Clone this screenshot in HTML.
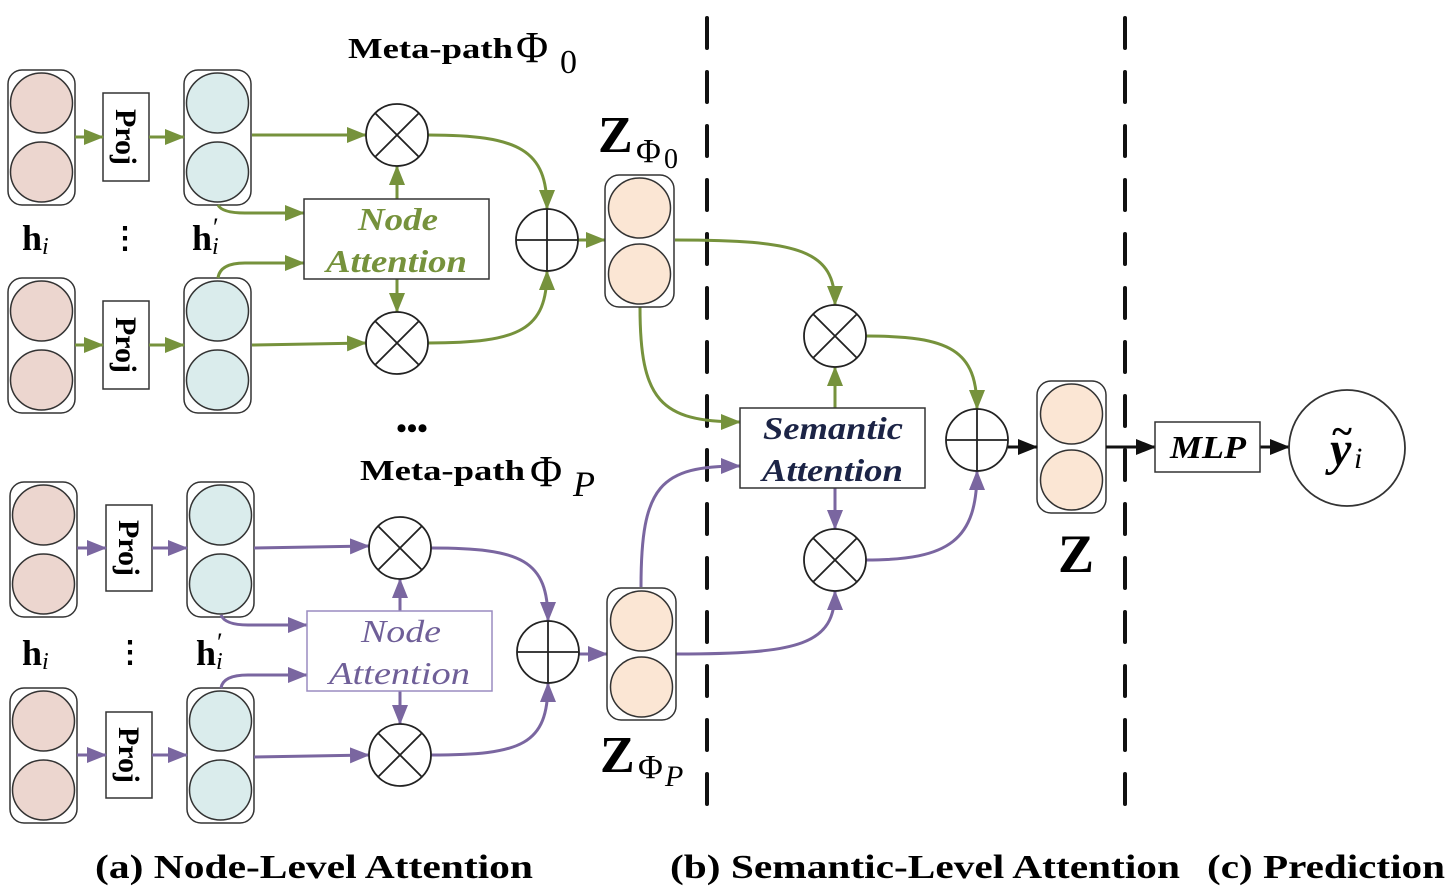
<!DOCTYPE html>
<html><head><meta charset="utf-8"><style>
html,body{margin:0;padding:0;background:#fff}
svg{display:block}
text{font-family:"Liberation Serif",serif}
</style></head><body>
<svg width="1456" height="894" viewBox="0 0 1456 894" xmlns="http://www.w3.org/2000/svg">
<defs>
<marker id="ag" markerWidth="20" markerHeight="20" refX="19" refY="10" orient="auto" markerUnits="userSpaceOnUse" viewBox="0 0 20 20"><path d="M0,2 L20,10 L0,18 z" fill="#76923c"/></marker>
<marker id="ap" markerWidth="20" markerHeight="20" refX="19" refY="10" orient="auto" markerUnits="userSpaceOnUse" viewBox="0 0 20 20"><path d="M0,2 L20,10 L0,18 z" fill="#7a66a0"/></marker>
<marker id="ak" markerWidth="20" markerHeight="20" refX="19" refY="10" orient="auto" markerUnits="userSpaceOnUse" viewBox="0 0 20 20"><path d="M0,2 L20,10 L0,18 z" fill="#111"/></marker>
<g id="pink"><rect x="0" y="0" width="67" height="135" rx="14" fill="#fff" stroke="#333" stroke-width="1.5"/><ellipse cx="33.5" cy="33" rx="31" ry="30" fill="#ecd6cf" stroke="#333" stroke-width="1.5"/><ellipse cx="33.5" cy="102" rx="31" ry="30" fill="#ecd6cf" stroke="#333" stroke-width="1.5"/></g>
<g id="teal"><rect x="0" y="0" width="67" height="135" rx="14" fill="#fff" stroke="#333" stroke-width="1.5"/><ellipse cx="33.5" cy="33" rx="31" ry="30" fill="#daecec" stroke="#333" stroke-width="1.5"/><ellipse cx="33.5" cy="102" rx="31" ry="30" fill="#daecec" stroke="#333" stroke-width="1.5"/></g>
<g id="peach"><rect x="0" y="0" width="69" height="132" rx="14" fill="#fff" stroke="#333" stroke-width="1.5"/><ellipse cx="34.5" cy="33" rx="31" ry="30" fill="#fbe6d4" stroke="#333" stroke-width="1.5"/><ellipse cx="34.5" cy="99" rx="31" ry="30" fill="#fbe6d4" stroke="#333" stroke-width="1.5"/></g>
<g id="otimes"><circle cx="0" cy="0" r="31" fill="#fff" stroke="#222" stroke-width="1.8"/><path d="M-22,-22 L22,22 M22,-22 L-22,22" stroke="#222" stroke-width="1.8"/></g>
<g id="oplus"><circle cx="0" cy="0" r="31" fill="#fff" stroke="#222" stroke-width="1.8"/><path d="M-31,0 L31,0 M0,-31 L0,31" stroke="#222" stroke-width="1.8"/></g>
</defs>

<line x1="707" y1="18" x2="707" y2="815" stroke="#111" stroke-width="4" stroke-dasharray="30,24" stroke-linecap="round"/>
<line x1="1125" y1="18" x2="1125" y2="815" stroke="#111" stroke-width="4" stroke-dasharray="30,24" stroke-linecap="round"/>

<!-- ===== Top group (green) ===== -->
<text x="348" y="58" font-size="28" font-weight="bold" textLength="165" lengthAdjust="spacingAndGlyphs">Meta-path</text>
<text x="516" y="62" font-size="44">Φ</text><text x="560" y="73" font-size="34">0</text>
<use href="#pink" x="8" y="70"/><use href="#teal" x="184" y="70"/>
<use href="#pink" x="8" y="278"/><use href="#teal" x="184" y="278"/>
<rect x="103" y="93" width="46" height="88" fill="#fff" stroke="#333" stroke-width="1.5"/>
<text transform="translate(116,137) rotate(90)" text-anchor="middle" font-size="30" font-weight="bold">Proj</text>
<rect x="103" y="301" width="46" height="88" fill="#fff" stroke="#333" stroke-width="1.5"/>
<text transform="translate(116,345) rotate(90)" text-anchor="middle" font-size="30" font-weight="bold">Proj</text>
<text x="22" y="250" font-size="36" font-weight="bold">h</text><text x="42" y="254" font-size="24" font-style="italic">i</text>
<text x="125" y="248" font-size="30" font-weight="bold" text-anchor="middle">⋮</text>
<text x="192" y="250" font-size="36" font-weight="bold">h</text><text x="212" y="254" font-size="24" font-style="italic">i</text><text x="213" y="236" font-size="26">′</text>

<g fill="none" stroke="#76923c" stroke-width="3">
<path d="M75,137 L103,137" marker-end="url(#ag)"/>
<path d="M149,137 L184,137" marker-end="url(#ag)"/>
<path d="M75,345 L103,345" marker-end="url(#ag)"/>
<path d="M149,345 L184,345" marker-end="url(#ag)"/>
<path d="M252,135 L366,135" marker-end="url(#ag)"/>
<path d="M252,345 L366,343" marker-end="url(#ag)"/>
<path d="M218,205 Q222,213 245,213 L304,213" marker-end="url(#ag)"/>
<path d="M218,278 Q220,263 245,263 L304,263" marker-end="url(#ag)"/>
<path d="M397,199 L397,166" marker-end="url(#ag)"/>
<path d="M397,279 L397,312" marker-end="url(#ag)"/>
<path d="M428,135 C520,135 547,150 547,209" marker-end="url(#ag)"/>
<path d="M428,343 C520,343 547,330 547,271" marker-end="url(#ag)"/>
<path d="M578,240 L605,240" marker-end="url(#ag)"/>
<path d="M675,240 C800,240 835,250 835,305" marker-end="url(#ag)"/>
<path d="M640,307 C640,400 660,422 740,422" marker-end="url(#ag)"/>
<path d="M835,408 L835,367" marker-end="url(#ag)"/>
<path d="M866,336 C950,336 977,350 977,409" marker-end="url(#ag)"/>
</g>
<rect x="304" y="199" width="185" height="80" fill="#fff" stroke="#333" stroke-width="1.5"/>
<text x="358" y="230" font-size="32" font-weight="bold" font-style="italic" fill="#76923c" textLength="80" lengthAdjust="spacingAndGlyphs">Node</text>
<text x="326" y="272" font-size="32" font-weight="bold" font-style="italic" fill="#76923c" textLength="141" lengthAdjust="spacingAndGlyphs">Attention</text>
<use href="#otimes" x="397" y="135"/><use href="#otimes" x="397" y="343"/>
<use href="#oplus" x="547" y="240"/>
<use href="#peach" x="605" y="175"/>
<text x="598" y="152" font-size="52" font-weight="bold">Z</text><text x="636" y="162" font-size="34">Φ</text><text x="664" y="168" font-size="28">0</text>

<text x="412" y="438" text-anchor="middle" font-size="30" font-weight="bold">•••</text>

<!-- ===== Bottom group (purple) ===== -->
<text x="360" y="480" font-size="28" font-weight="bold" textLength="165" lengthAdjust="spacingAndGlyphs">Meta-path</text>
<text x="530" y="486" font-size="44">Φ</text><text x="573" y="496" font-size="36" font-style="italic">P</text>
<use href="#pink" x="10" y="482"/><use href="#teal" x="187" y="482"/>
<use href="#pink" x="10" y="688"/><use href="#teal" x="187" y="688"/>
<rect x="106" y="505" width="46" height="86" fill="#fff" stroke="#333" stroke-width="1.5"/>
<text transform="translate(119,548) rotate(90)" text-anchor="middle" font-size="30" font-weight="bold">Proj</text>
<rect x="106" y="712" width="46" height="86" fill="#fff" stroke="#333" stroke-width="1.5"/>
<text transform="translate(119,755) rotate(90)" text-anchor="middle" font-size="30" font-weight="bold">Proj</text>
<text x="22" y="665" font-size="36" font-weight="bold">h</text><text x="42" y="669" font-size="24" font-style="italic">i</text>
<text x="130" y="662" font-size="30" font-weight="bold" text-anchor="middle">⋮</text>
<text x="196" y="665" font-size="36" font-weight="bold">h</text><text x="216" y="669" font-size="24" font-style="italic">i</text><text x="217" y="651" font-size="26">′</text>

<g fill="none" stroke="#7a66a0" stroke-width="3">
<path d="M77,548 L106,548" marker-end="url(#ap)"/>
<path d="M152,548 L187,548" marker-end="url(#ap)"/>
<path d="M77,755 L106,755" marker-end="url(#ap)"/>
<path d="M152,755 L187,755" marker-end="url(#ap)"/>
<path d="M254,548 L369,546" marker-end="url(#ap)"/>
<path d="M254,757 L369,755" marker-end="url(#ap)"/>
<path d="M221,615 Q225,625 248,625 L307,625" marker-end="url(#ap)"/>
<path d="M221,688 Q223,675 248,675 L307,675" marker-end="url(#ap)"/>
<path d="M400,611 L400,579" marker-end="url(#ap)"/>
<path d="M400,691 L400,724" marker-end="url(#ap)"/>
<path d="M431,548 C522,548 548,560 548,621" marker-end="url(#ap)"/>
<path d="M431,755 C522,755 548,745 548,683" marker-end="url(#ap)"/>
<path d="M579,654 L607,654" marker-end="url(#ap)"/>
<path d="M641,587 C641,485 660,466 740,466" marker-end="url(#ap)"/>
<path d="M676,654 C800,654 835,645 835,591" marker-end="url(#ap)"/>
<path d="M835,488 L835,529" marker-end="url(#ap)"/>
<path d="M866,560 C950,560 977,540 977,471" marker-end="url(#ap)"/>
</g>
<rect x="307" y="611" width="185" height="80" fill="#fff" stroke="#9a8cc0" stroke-width="1.5"/>
<text x="361" y="642" font-size="32" font-style="italic" fill="#6f5f98" textLength="80" lengthAdjust="spacingAndGlyphs">Node</text>
<text x="329" y="684" font-size="32" font-style="italic" fill="#6f5f98" textLength="141" lengthAdjust="spacingAndGlyphs">Attention</text>
<use href="#otimes" x="400" y="548"/><use href="#otimes" x="400" y="755"/>
<use href="#oplus" x="548" y="652"/>
<use href="#peach" x="607" y="588"/>
<text x="600" y="772" font-size="52" font-weight="bold">Z</text><text x="638" y="778" font-size="34">Φ</text><text x="665" y="786" font-size="30" font-style="italic">P</text>

<!-- ===== Semantic ===== -->
<rect x="740" y="408" width="185" height="80" fill="#fff" stroke="#333" stroke-width="1.5"/>
<text x="763" y="439" font-size="32" font-weight="bold" font-style="italic" fill="#1c2446" textLength="140" lengthAdjust="spacingAndGlyphs">Semantic</text>
<text x="762" y="481" font-size="32" font-weight="bold" font-style="italic" fill="#1c2446" textLength="141" lengthAdjust="spacingAndGlyphs">Attention</text>
<use href="#otimes" x="835" y="336"/><use href="#otimes" x="835" y="560"/>
<use href="#oplus" x="977" y="440"/>
<use href="#peach" x="1037" y="381"/>
<text x="1076" y="572" text-anchor="middle" font-size="54" font-weight="bold">Z</text>

<g fill="none" stroke="#111" stroke-width="3">
<path d="M1008,447 L1037,447" marker-end="url(#ak)"/>
<path d="M1106,447 L1155,447" marker-end="url(#ak)"/>
<path d="M1260,447 L1289,447" marker-end="url(#ak)"/>
</g>
<rect x="1155" y="422" width="105" height="50" fill="#fff" stroke="#333" stroke-width="1.5"/>
<text x="1170" y="458" font-size="32" font-weight="bold" font-style="italic" textLength="76" lengthAdjust="spacingAndGlyphs">MLP</text>
<circle cx="1347" cy="448" r="58" fill="#fff" stroke="#333" stroke-width="1.8"/>
<text x="1330" y="465" font-size="48" font-weight="bold" font-style="italic">y</text>
<text x="1354" y="468" font-size="30" font-style="italic">i</text>
<text x="1342" y="444" text-anchor="middle" font-size="38" font-weight="bold">~</text>

<!-- captions -->
<text x="95" y="878" font-size="34" font-weight="bold" textLength="438" lengthAdjust="spacingAndGlyphs">(a) Node-Level Attention</text>
<text x="670" y="878" font-size="34" font-weight="bold" textLength="510" lengthAdjust="spacingAndGlyphs">(b) Semantic-Level Attention</text>
<text x="1207" y="878" font-size="34" font-weight="bold" textLength="238" lengthAdjust="spacingAndGlyphs">(c) Prediction</text>
</svg>
</body></html>
